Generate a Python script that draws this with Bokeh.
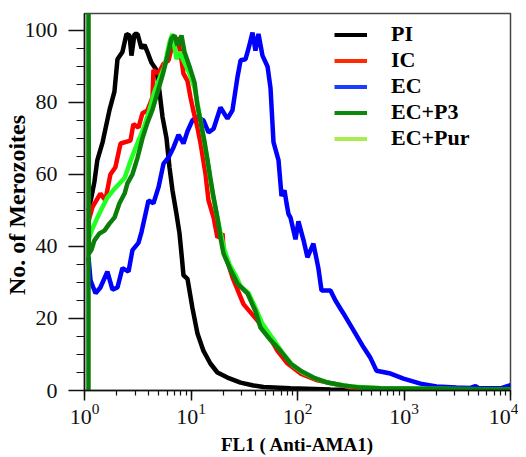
from bokeh.plotting import figure
from bokeh.models import Range1d, Legend, LegendItem, FixedTicker, LogTicker
from bokeh.embed import file_html
from bokeh.resources import INLINE

# ---- data ----
pi_x = [1.09, 1.16, 1.24, 1.32, 1.48, 1.72, 1.91, 2.04, 2.27, 2.48, 2.65, 2.76, 2.95, 3.15, 3.43,
        3.66, 3.90, 4.26, 4.74, 5.06, 5.40, 5.89, 6.28, 6.70, 7.31, 7.80, 8.14, 8.50, 9.27, 10.3,
        11.5, 13.1, 15.2, 17.7, 22.0, 29.2, 38.6, 48.0, 86, 204, 602, 10000]
pi_y = [50, 53.6, 58, 64, 69, 78, 83, 92, 94, 99, 98.6, 93, 99, 99, 95,
        96, 94, 91, 89, 83, 76, 70, 62, 55.6, 49, 43.6, 38, 32, 31, 23,
        15.8, 11, 7.5, 5, 3.6, 2.2, 1.4, 1.0, 0.6, 0.3, 0.2, 0.1]

ic_x = [1.09, 1.19, 1.41, 1.57, 1.75, 1.95, 2.18, 2.70, 2.88, 3.21, 3.50, 3.90, 4.35, 4.44, 4.95,
        5.52, 6.15, 6.70, 7.47, 7.97, 8.50, 9.27, 9.89, 10.5, 11.5, 12.3, 13.7, 14.6, 16.3, 17.7,
        19.8, 20.2, 22.5, 24.5, 31.1, 42.1, 52.3, 64.9, 80.6, 107, 154, 218, 315, 517, 1429, 10000]
ic_y = [47, 51, 54.7, 52.8, 60, 62, 68.6, 69.4, 74, 73, 77, 77.8, 81.4, 89, 88,
        90.7, 91.7, 96, 98, 93.6, 88, 86, 81.4, 77.8, 73, 68.6, 60, 52.8, 48, 42.5,
        43.6, 39, 35, 31.4, 24, 19.4, 15.8, 11, 7.5, 4.7, 2.8, 1.9, 0.8, 0.5, 0.3, 0.2]

ec_x = [1.09, 1.14, 1.27, 1.41, 1.64, 1.83, 2.04, 2.27, 2.59, 2.82, 3.21, 3.43, 3.74, 3.99, 4.44,
        4.95, 5.52, 6.15, 6.85, 7.63, 8.50, 9.27, 10.3, 11.5, 13.1, 14.6, 16.3, 18.9, 22.0, 24.5,
        27.3, 29.2, 32.5, 34.7, 37.8, 40.3, 43.0, 46.9, 52.3, 55.8, 59.5, 66.3, 70.8, 75.5, 78.9,
        82.3, 86.0, 95.8, 102, 114, 124, 141, 157, 168, 204, 227, 270, 336, 417, 485,
        552, 747, 989, 1429, 2020, 3112, 4200, 4694, 5100, 8054, 10000]
ec_y = [37, 30.5, 27, 28.6, 33, 28, 28.6, 34, 33, 39, 41, 44, 49, 52.8, 52,
        56.4, 63, 64.7, 67.5, 71, 68.6, 72, 75, 76, 75, 71.7, 72.7, 78.6, 75.5, 77.8,
        87, 91.7, 92, 95, 99.4, 94.4, 99, 93, 90, 84, 69, 64, 54, 55.6, 52,
        49, 48, 42, 47, 41.7, 37, 40.8, 34, 27.8, 27.8, 25, 21.4, 16.7, 12, 9,
        5.5, 4.7, 3.3, 1.9, 1.1, 0.8, 0.7, 1.2, 0.6, 0.6, 1.5]

p3_x = [1.09, 1.09, 1.10, 1.16, 1.24, 1.38, 1.54, 1.72, 1.91, 2.13, 2.38, 2.53, 2.82, 3.15, 3.50,
        3.90, 4.35, 4.85, 5.40, 6.02, 6.56, 7.00, 7.47, 8.14, 8.69, 9.68, 10.8, 11.5, 12.5, 13.4,
        14.3, 15.2, 16.3, 17.7, 18.9, 20.2, 23.5, 27.3, 33.9, 40.3, 44.9, 55.8, 69.2, 86.0, 107,
        141, 191, 270, 390, 602, 2700, 10000]
p3_y = [0, 110, 38, 39, 41.7, 43.6, 44.4, 46.4, 48, 52, 54.7, 57.5, 60, 64.7, 70,
        74.4, 78, 82.8, 87.5, 93, 97.8, 98.6, 95.8, 98.6, 94, 90, 85.5, 79, 73.6, 69,
        64, 59, 53.6, 48, 42.5, 38, 33.5, 29.7, 27, 22, 17.5, 14, 11, 7.5, 5.5,
        3.6, 2.2, 1.4, 0.8, 0.6, 0.4, 0.3]

pur_x = [1.09, 1.19, 1.32, 1.48, 1.64, 1.91, 2.13, 2.38, 2.65, 2.95, 3.28, 3.66, 4.08, 4.54, 5.06,
         5.64, 6.28, 6.70, 7.31, 7.80, 8.69, 9.68, 10.8, 11.8, 12.8, 13.7, 14.6, 15.9, 17.4, 18.9,
         20.6, 23.0, 26.2, 29.2, 34.7, 39.5, 46.9, 58.3, 72.3, 89.8, 111, 148, 204, 315, 602, 10000]
pur_y = [42, 45, 48, 51, 53.6, 56, 57.5, 59, 63, 66.7, 70, 73.6, 78, 83, 86.7,
         90, 96.7, 99, 92, 94, 91, 88, 84, 78, 72, 67, 62, 55, 49, 44,
         39, 35, 32, 29, 27, 23.5, 18.5, 14.5, 10.5, 7, 5, 3.3, 2.0, 1.1, 0.6, 0.3]

labels = ["PI", "IC", "EC", "EC+P3", "EC+Pur"]
colors = ["#000000", "#ff0000", "#0000ff", "#0a7f0a", "#22ff22"]
legend_colors = ["#000000", "#ff2a00", "#1a3cff", "#0a8a0a", "#a8ec50"]

y_ticks = [0, 20, 40, 60, 80, 100]
y_minor = list(range(0, 105, 5))

SERIF = "Liberation Serif"

p = figure(width=518, height=457, x_axis_type="log",
           x_range=Range1d(1, 10000), y_range=Range1d(0, 104.7),
           output_backend="svg", toolbar_location=None,
           min_border_left=84, min_border_top=13, min_border_right=8, min_border_bottom=67)

p.grid.visible = False
p.outline_line_color = "#444444"
p.outline_line_width = 1.5
p.background_fill_color = "white"

lw = 4.5
p.line(pi_x, pi_y, line_color=colors[0], line_width=lw)
p.line(ec_x, ec_y, line_color=colors[2], line_width=lw)
p.line(ic_x, ic_y, line_color=colors[1], line_width=lw)
p.line(pur_x, pur_y, line_color=colors[4], line_width=lw)
p.line(p3_x, p3_y, line_color=colors[3], line_width=lw)

# legend-only renderers (their points lie outside the visible ranges)
items = []
for lab, c in zip(labels, legend_colors):
    r = p.line([1e7, 2e7], [-50, -50], line_color=c, line_width=4)
    items.append(LegendItem(label=lab, renderers=[r]))
legend = Legend(items=items, location=(250, 239), padding=0, margin=0,
                glyph_width=33, glyph_height=25, label_height=25, spacing=0,
                label_standoff=24, border_line_alpha=0, background_fill_alpha=0,
                label_text_font=SERIF, label_text_font_style="bold",
                label_text_font_size="22px", label_text_color="#000000")
p.add_layout(legend, "center")

# y axis
p.yaxis.ticker = FixedTicker(ticks=y_ticks, minor_ticks=y_minor)
p.yaxis.major_tick_out = 16
p.yaxis.major_tick_in = 0
p.yaxis.minor_tick_out = 8
p.yaxis.minor_tick_in = 0
p.yaxis.axis_label = "No. of  Merozoites"
p.yaxis.axis_label_text_font = SERIF
p.yaxis.axis_label_text_font_style = "bold"
p.yaxis.axis_label_text_font_size = "24px"
p.yaxis.axis_label_standoff = -8
p.yaxis.major_label_text_font = SERIF
p.yaxis.major_label_text_font_size = "22px"
p.yaxis.major_label_standoff = 11

# x axis
p.xaxis.ticker = LogTicker(num_minor_ticks=10)
p.xaxis.major_tick_out = 10
p.xaxis.major_tick_in = 0
p.xaxis.minor_tick_out = 5
p.xaxis.minor_tick_in = 0
p.xaxis.axis_label = "FL1 ( Anti-AMA1)"
p.xaxis.axis_label_text_font = SERIF
p.xaxis.axis_label_text_font_style = "bold"
p.xaxis.axis_label_text_font_size = "19px"
p.xaxis.axis_label_standoff = 7
p.xaxis.major_label_text_font = SERIF
p.xaxis.major_label_text_font_size = "22px"
p.xaxis.major_label_standoff = 3

for ax in (p.xaxis, p.yaxis):
    ax.axis_line_color = "#111111"
    ax.axis_line_width = 1.5
    ax.major_tick_line_color = "#111111"
    ax.major_tick_line_width = 1.5
    ax.minor_tick_line_color = "#111111"
    ax.minor_tick_line_width = 1.2
    ax.major_label_text_color = "#111111"
    ax.axis_label_text_color = "#000000"

open("out.html", "w").write(file_html(p, INLINE))
